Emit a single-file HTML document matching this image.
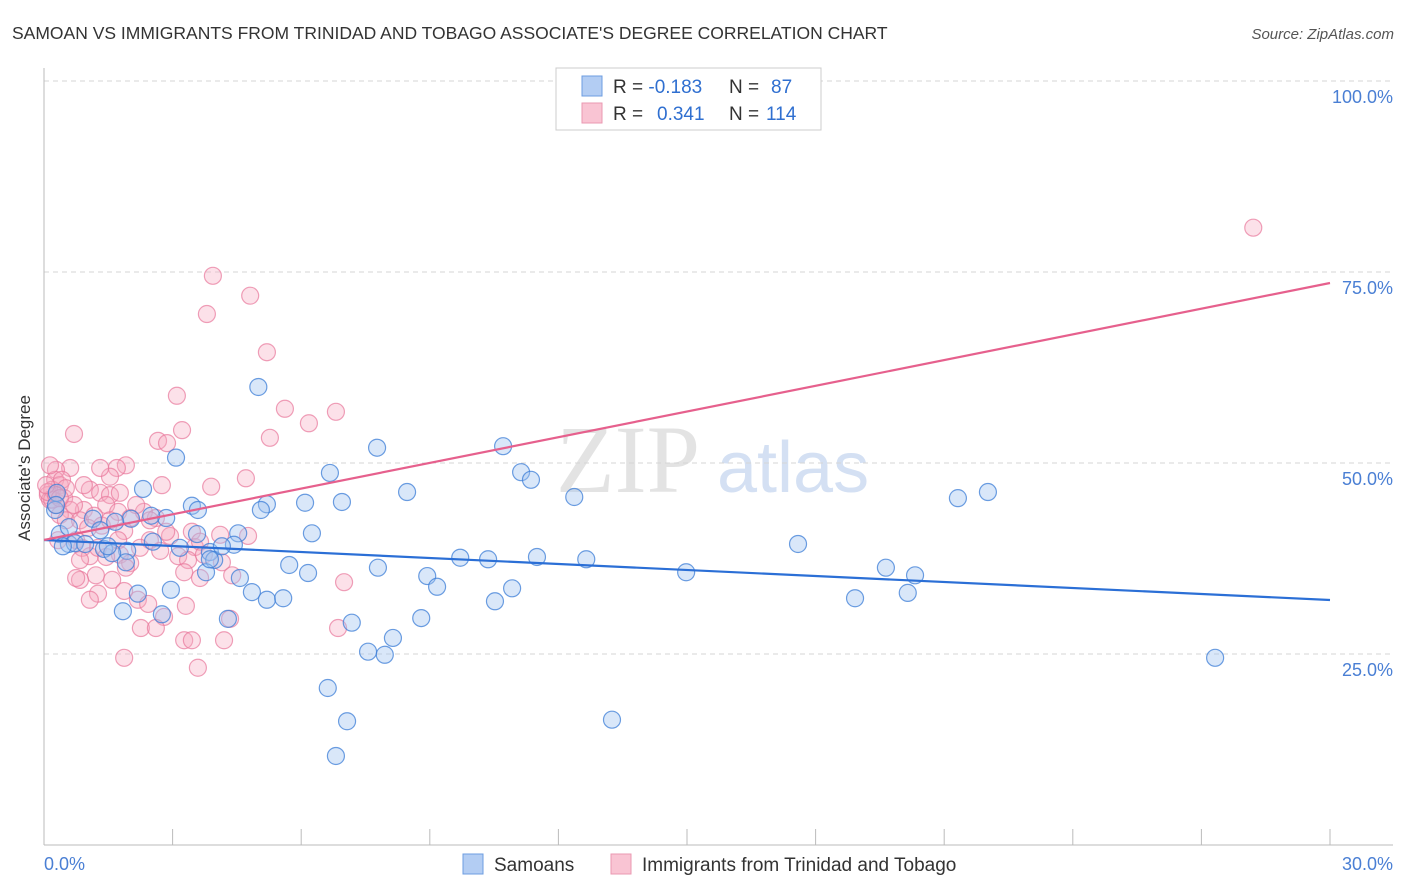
<!DOCTYPE html>
<html><head><meta charset="utf-8"><style>
body{margin:0;background:#fff;font-family:"Liberation Sans",sans-serif;}
#wrap{position:relative;width:1406px;height:892px;overflow:hidden;}
</style></head><body>
<div id="wrap">
<svg id="svg" width="1406" height="892" xmlns="http://www.w3.org/2000/svg">
<text x="12" y="39" font-size="17.5" fill="#333">SAMOAN VS IMMIGRANTS FROM TRINIDAD AND TOBAGO ASSOCIATE'S DEGREE CORRELATION CHART</text>
<text x="1394" y="39" font-size="15" fill="#555" font-style="italic" text-anchor="end">Source: ZipAtlas.com</text>
<g>
<text x="556" y="492" font-family="Liberation Serif, serif" font-size="96" fill="#d8d8d8" opacity="0.7">ZIP</text>
<text x="717" y="492" font-size="72" fill="#b8cdec" opacity="0.6">atlas</text>
</g>
<g id="grid"></g>
<g id="axes"></g>
<g id="pts"></g>
<g id="lines"></g>
<text x="18" y="456" font-size="17" fill="#333" transform="rotate(-90 30 456)" text-anchor="middle">Associate's Degree</text>
<g>
<rect x="556" y="68" width="265" height="62" fill="#fff" stroke="#ccc"/>
<rect x="582" y="76" width="20" height="20" fill="#b3cdf3" stroke="#6d9de0"/>
<rect x="582" y="103" width="20" height="20" fill="#f9c4d3" stroke="#ea98b1"/>
<text x="613" y="93" font-size="19" fill="#333">R = <tspan fill="#2f6fd0">-0.183</tspan><tspan x="729">N = </tspan><tspan fill="#2f6fd0" x="771">87</tspan></text>
<text x="613" y="120" font-size="19" fill="#333">R = <tspan fill="#2f6fd0" x="657">0.341</tspan><tspan x="729">N = </tspan><tspan fill="#2f6fd0" x="766">114</tspan></text>
</g>
<g>
<rect x="463" y="854" width="20" height="20" fill="#b3cdf3" stroke="#6d9de0"/>
<text x="494" y="871" font-size="19" fill="#333">Samoans</text>
<rect x="611" y="854" width="20" height="20" fill="#f9c4d3" stroke="#ea98b1"/>
<text x="642" y="871" font-size="19" fill="#333">Immigrants from Trinidad and Tobago</text>
</g>
</svg>
</div>
<script>
const samoansX=[5.0,3.08,7.77,10.71,11.13,11.36,6.67,8.47,12.37,21.32,22.02,5.2,5.06,6.09,6.95,3.45,3.59,2.31,2.03,1.66,1.14,2.85,4.53,6.25,3.57,3.17,3.87,3.97,4.43,2.54,1.94,1.4,0.58,0.72,0.37,0.26,0.3,0.28,9.71,10.36,11.5,12.65,17.59,14.98,19.64,20.32,5.72,6.16,7.79,8.94,9.17,10.92,10.52,18.92,20.15,4.85,4.57,3.78,1.91,1.59,2.96,2.19,1.84,2.75,4.29,5.2,5.58,8.8,7.18,8.14,7.56,7.95,6.62,7.07,6.81,13.25,27.32,4.15,2.5,0.96,1.49,0.58,1.31,0.44,3.87];
const samoansY=[59.95,50.7,52.0,52.2,48.8,47.8,48.7,46.2,45.55,45.4,46.2,44.6,43.85,44.8,44.9,44.4,43.85,46.6,42.7,42.3,42.7,42.8,40.8,40.8,40.7,38.9,38.35,37.3,39.3,39.7,38.5,38.75,39.4,39.5,40.7,43.85,46.1,44.5,37.6,37.4,37.7,37.4,39.4,35.7,36.3,35.3,36.65,35.6,36.3,35.2,33.8,33.6,31.9,32.3,33.0,33.1,34.95,35.7,37.0,38.2,33.4,32.9,30.6,30.2,29.6,32.1,32.3,29.7,29.1,27.1,25.3,24.9,20.55,16.2,11.65,16.4,24.5,39.1,43.1,39.4,39.1,41.6,41.2,39.1,37.4];
const trinX=[28.21,3.94,4.81,3.8,5.2,3.1,5.62,6.81,6.18,0.7,3.22,2.66,2.87,5.27,1.91,1.7,0.61,0.28,4.71,2.75,3.9,0.26,0.37,0.19,0.09,0.14,0.28,0.47,1.07,1.31,1.54,1.77,1.45,0.93,0.61,0.37,0.51,0.84,1.17,1.35,1.73,2.01,2.33,2.61,1.87,2.47,2.94,3.45,3.52,3.64,4.11,4.76,0.75,0.89,1.07,1.26,1.77,2.01,1.91,2.71,3.13,3.36,3.73,4.15,4.39,3.64,3.27,0.84,1.21,0.84,1.26,1.07,1.59,1.87,2.19,2.43,2.8,3.31,4.34,2.26,2.61,3.27,3.45,4.2,3.59,1.87,6.86,7.0,0.75,0.7,1.54,0.93,1.31,2.47,2.15,0.14,0.42,1.54,2.24,2.85,1.03,0.33,1.45,1.73,0.19,0.09,0.51,0.28,0.37,0.05];
const trinY=[80.8,74.5,71.9,69.5,64.5,58.8,57.1,56.7,55.2,53.8,54.3,52.9,52.6,53.3,49.7,49.35,49.35,49.1,48.0,47.1,46.9,47.8,47.1,46.5,45.8,45.2,44.5,45.4,46.5,46.1,45.8,46.1,44.5,43.85,43.85,43.2,42.5,42.5,43.1,41.8,43.6,42.8,43.6,42.8,41.1,39.9,40.45,41.0,39.0,39.7,40.6,40.45,39.9,38.9,37.8,38.9,38.0,36.9,36.3,38.5,37.8,37.3,38.0,37.0,35.3,34.95,35.7,37.3,35.3,34.7,32.9,32.1,34.7,33.25,32.1,31.55,29.85,31.3,29.6,28.4,28.4,26.8,26.8,26.8,23.2,24.5,28.4,34.4,34.95,44.5,48.2,47.1,49.35,42.5,44.5,49.7,47.8,42.5,38.9,41.0,41.5,39.9,37.7,39.9,45.2,46.2,46.7,45.8,45.4,47.1];
const trendStart=[39.92,39.92];
const trendEnd=[32.07,73.56];
const yTicks=[25,50,75,100];
const yTickLabels=["25.0%","50.0%","75.0%","100.0%"];
const xTicks=[0,3,6,9,12,15,18,21,24,27,30];

const NS="http://www.w3.org/2000/svg";
const X0=44,X1=1330,Y0=845,YTOP=81;
const sx=v=>X0+(v/30)*(X1-X0);
const sy=v=>Y0-(v/100)*(Y0-YTOP);
function mk(tag,attrs,parent){const e=document.createElementNS(NS,tag);for(const k in attrs)e.setAttribute(k,attrs[k]);parent.appendChild(e);return e;}
const grid=document.getElementById('grid'),axes=document.getElementById('axes'),pts=document.getElementById('pts'),lines=document.getElementById('lines');
yTicks.forEach((t,i)=>{
  const l=mk('line',{x1:X0,x2:1393,y1:sy(t),y2:sy(t),stroke:'#d6d6d6','stroke-dasharray':'5,4'},grid);
  
  
  const tx=mk('text',{x:1393,y:sy(t)+22,'font-size':18,fill:'#4a7fd4','text-anchor':'end'},axes);
  tx.textContent=yTickLabels[i];
  
  
});
const ya=mk('line',{x1:X0,x2:X0,y1:68,y2:Y0,stroke:'#bbb'},axes);


const xa=mk('line',{x1:X0,x2:1393,y1:Y0,y2:Y0,stroke:'#bbb'},axes);


xTicks.forEach(t=>{
  const l=mk('line',{x1:sx(t),x2:sx(t),y1:829,y2:Y0,stroke:'#bbb'},axes);
  
  
});
const xl0=mk('text',{x:X0,y:870,'font-size':18,fill:'#4a7fd4'},axes);
xl0.textContent="0.0%";


const xl1=mk('text',{x:1393,y:870,'font-size':18,fill:'#4a7fd4','text-anchor':'end'},axes);
xl1.textContent="30.0%";



trinX.forEach((x,i)=>{
  const c=mk('circle',{cx:sx(x),cy:sy(trinY[i]),r:8.5,fill:'rgba(246,168,192,0.35)',stroke:'rgba(232,120,155,0.7)','stroke-width':1.2},pts);
  
  
});
samoansX.forEach((x,i)=>{
  const c=mk('circle',{cx:sx(x),cy:sy(samoansY[i]),r:8.5,fill:'rgba(160,195,240,0.4)',stroke:'rgba(60,125,215,0.75)','stroke-width':1.2},pts);
  
  
});
const colors=['#2b6fd6','#e6608d'];
const names=['trend-line-samoans','trend-line-trinidad'];
trendStart.forEach((s,i)=>{
  const l=mk('line',{x1:sx(0),y1:sy(s),x2:sx(30),y2:sy(trendEnd[i]),stroke:colors[i],'stroke-width':2.2},lines);
  
  
});
</script>
</body></html>
